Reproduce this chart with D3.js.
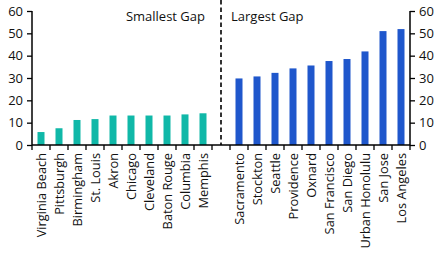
<!DOCTYPE html>
<html><head><meta charset="utf-8">
<script src="https://cdn.jsdelivr.net/npm/d3@7"></script>
<style>body{margin:0;background:#fff}svg{display:block}text{font-family:"Open Sans","Noto Sans",sans-serif;fill:#111}</style>
</head><body><svg id="c" width="441" height="253"></svg>
<script>
const smallCities = ["Virginia Beach","Pittsburgh","Birmingham","St. Louis","Akron","Chicago","Cleveland","Baton Rouge","Columbia","Memphis"];
const smallValues = [5.8,7.5,11.2,11.6,13.2,13.2,13.2,13.2,13.7,14.2];
const largeCities = ["Sacramento","Stockton","Seattle","Providence","Oxnard","San Francisco","San Diego","Urban Honolulu","San Jose","Los Angeles"];
const largeValues = [29.8,30.7,32.3,34.3,35.6,37.6,38.5,41.9,51.0,51.9];
const yTicks = [0,10,20,30,40,50,60];
const groupLabels = ["Smallest Gap","Largest Gap"];

const svg = d3.select("#c");
const L = 32, R = 410, T = 11, B = 145;
const slots = [...smallCities, "__gap__", ...largeCities];
const x = d3.scaleBand().domain(slots).range([L, R]).paddingInner(0).paddingOuter(0);
const y = d3.scaleLinear().domain([0, 60]).range([B, T]);
const bw = 7;

const data = smallCities.map((c,i)=>({c, v:smallValues[i], col:"#10b8a8"}))
  .concat(largeCities.map((c,i)=>({c, v:largeValues[i], col:"#1f57cc"})));

svg.selectAll("rect.bar").data(data).enter().append("rect")
  .attr("x", d => x(d.c) + x.bandwidth()/2 - bw/2)
  .attr("y", d => y(d.v))
  .attr("width", bw)
  .attr("height", d => B - y(d.v))
  .attr("fill", d => d.col);

// dashed separator
const gx = x("__gap__") + x.bandwidth()/2;
svg.append("line").attr("x1", gx).attr("x2", gx).attr("y1", 0).attr("y2", B)
  .attr("stroke", "#000").attr("stroke-width", 1.6).attr("stroke-dasharray", "4.5,3");

// y axes
const yl = svg.append("g").attr("transform", `translate(${L},0)`)
  .call(d3.axisLeft(y).tickValues(yTicks).tickSize(5).tickPadding(4));
const yr = svg.append("g").attr("transform", `translate(${R},0)`)
  .call(d3.axisRight(y).tickValues(yTicks).tickSize(5).tickPadding(4));
[yl, yr].forEach(g => {
  g.select(".domain").attr("stroke", "#000").attr("stroke-width", 1.5).attr("d", `M0,${T}V${B}`);
  g.selectAll(".tick line").attr("stroke", "#000").attr("stroke-width", 1.3);
  g.selectAll("text").style("font-size", "13px").style("font-family", '"Open Sans","Noto Sans",sans-serif').attr("fill", "#111");
});

// x axis: ticks at slot boundaries
svg.append("line").attr("x1", L).attr("x2", R).attr("y1", B).attr("y2", B).attr("stroke", "#000").attr("stroke-width", 1.5);
const bounds = d3.range(slots.length + 1).map(i => L + i * x.step());
svg.selectAll("line.xt").data(bounds).enter().append("line")
  .attr("x1", d => d).attr("x2", d => d).attr("y1", B).attr("y2", B + 5)
  .attr("stroke", "#000").attr("stroke-width", 1.3);

// category labels
svg.selectAll("text.xl").data(data).enter().append("text")
  .attr("transform", d => `translate(${x(d.c) + x.bandwidth()/2 + 4.5},${B + 8}) rotate(-90)`)
  .attr("text-anchor", "end")
  .style("font-size", "12.8px")
  .text(d => d.c);

// group labels
svg.append("text").attr("x", 205).attr("y", 21).attr("text-anchor", "end").style("font-size", "13px").text(groupLabels[0]);
svg.append("text").attr("x", 231).attr("y", 21).attr("text-anchor", "start").style("font-size", "13px").text(groupLabels[1]);
</script></body></html>
